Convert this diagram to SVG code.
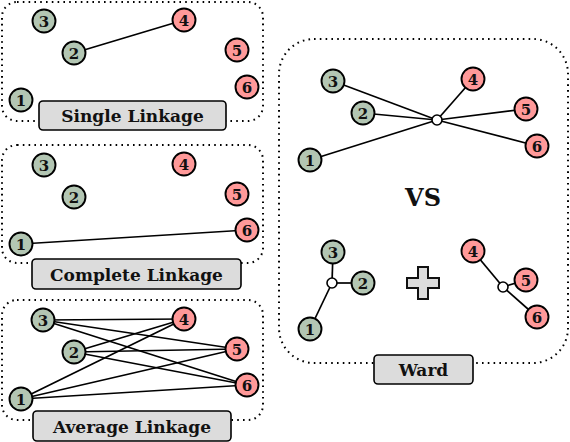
<svg xmlns="http://www.w3.org/2000/svg" width="570" height="442" viewBox="0 0 570 442">
<style>
.panel{fill:none;stroke:#000;stroke-width:2;stroke-dasharray:1.6 4.2;stroke-linecap:butt}
.g{fill:#b3c6b3;stroke:#000;stroke-width:1.9}
.r{fill:#ff9999;stroke:#000;stroke-width:1.9}
.n{font-family:"DejaVu Serif",serif;font-weight:bold;font-size:15px;text-anchor:middle;fill:#111}
.lbl{fill:#dcdcdc;stroke:#000;stroke-width:1.6}
.lt{font-family:"DejaVu Serif",serif;font-weight:bold;font-size:17px;text-anchor:middle;fill:#111}
.e{stroke:#000;stroke-width:1.7;fill:none}
.c{fill:#fff;stroke:#000;stroke-width:1.6}
</style>
<defs>
<g id="gn"><circle r="11.5" class="g"/></g>
<g id="rn"><circle r="11.5" class="r"/></g>
</defs>

<g id="panels">
<rect class="panel" x="2" y="2" width="261" height="119" rx="15"/>
<rect class="panel" x="2" y="145" width="261" height="118" rx="15"/>
<rect class="panel" x="2" y="300" width="261" height="120" rx="15"/>
<rect class="panel" x="279" y="39" width="289" height="324" rx="35"/>
</g>

<g id="connectors">
<line class="e" x1="74" y1="53" x2="184" y2="20"/>
<line class="e" x1="21" y1="244" x2="247" y2="230"/>
<line class="e" x1="43" y1="320" x2="184" y2="319"/>
<line class="e" x1="43" y1="320" x2="237" y2="349"/>
<line class="e" x1="43" y1="320" x2="247" y2="385"/>
<line class="e" x1="74" y1="352" x2="184" y2="319"/>
<line class="e" x1="74" y1="352" x2="237" y2="349"/>
<line class="e" x1="74" y1="352" x2="247" y2="385"/>
<line class="e" x1="21" y1="399" x2="184" y2="319"/>
<line class="e" x1="21" y1="399" x2="237" y2="349"/>
<line class="e" x1="21" y1="399" x2="247" y2="385"/>
<line class="e" x1="333" y1="81" x2="437" y2="120"/>
<line class="e" x1="363" y1="113" x2="437" y2="120"/>
<line class="e" x1="310" y1="160" x2="437" y2="120"/>
<line class="e" x1="473" y1="79" x2="437" y2="120"/>
<line class="e" x1="526" y1="109" x2="437" y2="120"/>
<line class="e" x1="537" y1="146" x2="437" y2="120"/>
<line class="e" x1="333" y1="252" x2="332" y2="283"/>
<line class="e" x1="363" y1="283" x2="332" y2="283"/>
<line class="e" x1="310" y1="329" x2="332" y2="283"/>
<line class="e" x1="473" y1="251" x2="503" y2="287"/>
<line class="e" x1="526" y1="280" x2="503" y2="287"/>
<line class="e" x1="537" y1="317" x2="503" y2="287"/>
</g>

<g id="s3"><use href="#gn" x="44" y="21"/><text class="n" x="44" y="26.5">3</text></g>
<g id="s2"><use href="#gn" x="74" y="53"/><text class="n" x="74" y="58.5">2</text></g>
<g id="s1"><use href="#gn" x="21" y="100"/><text class="n" x="21" y="105.5">1</text></g>
<g id="s4"><use href="#rn" x="184" y="20"/><text class="n" x="184" y="25.5">4</text></g>
<g id="s5"><use href="#rn" x="237" y="50"/><text class="n" x="237" y="55.5">5</text></g>
<g id="s6"><use href="#rn" x="247" y="87"/><text class="n" x="247" y="92.5">6</text></g>
<g id="single-label"><rect class="lbl" x="39" y="101" width="187" height="29" rx="4"/><text class="lt" x="132.5" y="122">Single Linkage</text></g>

<g id="c3"><use href="#gn" x="44" y="165"/><text class="n" x="44" y="170.5">3</text></g>
<g id="c2"><use href="#gn" x="74" y="197"/><text class="n" x="74" y="202.5">2</text></g>
<g id="c1"><use href="#gn" x="21" y="244"/><text class="n" x="21" y="249.5">1</text></g>
<g id="c4"><use href="#rn" x="184" y="164"/><text class="n" x="184" y="169.5">4</text></g>
<g id="c5"><use href="#rn" x="237" y="194"/><text class="n" x="237" y="199.5">5</text></g>
<g id="c6"><use href="#rn" x="247" y="230"/><text class="n" x="247" y="235.5">6</text></g>
<g id="complete-label"><rect class="lbl" x="32" y="259" width="209" height="30" rx="4"/><text class="lt" x="136.5" y="280.5">Complete Linkage</text></g>

<g id="a3"><use href="#gn" x="43" y="320"/><text class="n" x="43" y="325.5">3</text></g>
<g id="a2"><use href="#gn" x="74" y="352"/><text class="n" x="74" y="357.5">2</text></g>
<g id="a1"><use href="#gn" x="21" y="399"/><text class="n" x="21" y="404.5">1</text></g>
<g id="a4"><use href="#rn" x="184" y="319"/><text class="n" x="184" y="324.5">4</text></g>
<g id="a5"><use href="#rn" x="237" y="349"/><text class="n" x="237" y="354.5">5</text></g>
<g id="a6"><use href="#rn" x="247" y="385"/><text class="n" x="247" y="390.5">6</text></g>
<g id="average-label"><rect class="lbl" x="33" y="411" width="198" height="30" rx="4"/><text class="lt" x="132" y="432.5">Average Linkage</text></g>

<g id="wc"><circle class="c" cx="437" cy="120" r="5"/></g>
<g id="w3"><use href="#gn" x="333" y="81"/><text class="n" x="333" y="86.5">3</text></g>
<g id="w2"><use href="#gn" x="363" y="113"/><text class="n" x="363" y="118.5">2</text></g>
<g id="w1"><use href="#gn" x="310" y="160"/><text class="n" x="310" y="165.5">1</text></g>
<g id="w4"><use href="#rn" x="473" y="79"/><text class="n" x="473" y="84.5">4</text></g>
<g id="w5"><use href="#rn" x="526" y="109"/><text class="n" x="526" y="114.5">5</text></g>
<g id="w6"><use href="#rn" x="537" y="146"/><text class="n" x="537" y="151.5">6</text></g>
<text x="423" y="206" style="font-family:'DejaVu Serif',serif;font-weight:bold;font-size:24px;text-anchor:middle;fill:#111">VS</text>

<g id="wgc"><circle class="c" cx="332" cy="283" r="5"/></g>
<g id="b3"><use href="#gn" x="333" y="252"/><text class="n" x="333" y="257.5">3</text></g>
<g id="b2"><use href="#gn" x="363" y="283"/><text class="n" x="363" y="288.5">2</text></g>
<g id="b1"><use href="#gn" x="310" y="329"/><text class="n" x="310" y="334.5">1</text></g>
<g id="wrc"><circle class="c" cx="503" cy="287" r="5"/></g>
<g id="b4"><use href="#rn" x="473" y="251"/><text class="n" x="473" y="256.5">4</text></g>
<g id="b5"><use href="#rn" x="526" y="280"/><text class="n" x="526" y="285.5">5</text></g>
<g id="b6"><use href="#rn" x="537" y="317"/><text class="n" x="537" y="322.5">6</text></g>
<path d="M418,267 h10 v11 h11 v10 h-11 v11 h-10 v-11 h-11 v-10 h11 z" fill="#dcdcdc" stroke="#111" stroke-width="2"/>
<g id="ward-label"><rect class="lbl" x="374" y="355" width="99" height="29" rx="4"/><text class="lt" x="423.5" y="376">Ward</text></g>
</svg>
